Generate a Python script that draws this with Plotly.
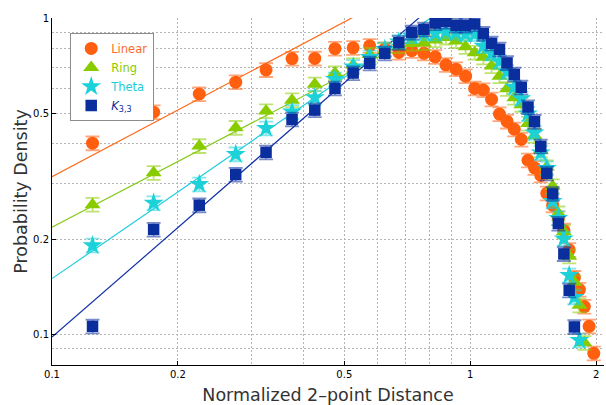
import plotly.graph_objects as go

# Normalized 2-point distance bins and measured probability densities
x_linear = [0.125, 0.175, 0.225, 0.275, 0.325, 0.375, 0.425, 0.475, 0.525, 0.575,
            0.625, 0.675, 0.725, 0.775, 0.825, 0.875, 0.925, 0.975, 1.025, 1.075,
            1.125, 1.175, 1.225, 1.275, 1.325, 1.375, 1.425, 1.475, 1.525, 1.575,
            1.625, 1.675, 1.725, 1.775, 1.825, 1.875, 1.925, 1.975]
y_linear = [0.402, 0.504, 0.575, 0.627, 0.685, 0.744, 0.745, 0.800, 0.805, 0.817,
            0.798, 0.778, 0.788, 0.773, 0.754, 0.711, 0.689, 0.655, 0.599, 0.592,
            0.553, 0.497, 0.471, 0.445, 0.413, 0.355, 0.336, 0.318, 0.279, 0.256,
            0.233, 0.213, 0.185, 0.151, 0.1385, 0.1224, 0.106, 0.0871]

x_ring = [0.125, 0.175, 0.225, 0.275, 0.325, 0.375, 0.425, 0.475, 0.525, 0.575,
          0.625, 0.675, 0.725, 0.775, 0.825, 0.875, 0.925, 0.975, 1.025, 1.075,
          1.125, 1.175, 1.225, 1.275, 1.325, 1.375, 1.425, 1.475, 1.525, 1.575,
          1.625, 1.675, 1.725, 1.775, 1.825, 1.875]
y_ring = [0.257, 0.324, 0.394, 0.450, 0.508, 0.550, 0.617, 0.670, 0.710, 0.766,
          0.792, 0.815, 0.830, 0.834, 0.852, 0.868, 0.846, 0.811, 0.777, 0.751,
          0.705, 0.655, 0.597, 0.560, 0.532, 0.464, 0.425, 0.382, 0.338, 0.294,
          0.2415, 0.211, 0.1765, 0.146, 0.1235, 0.094]

x_theta = [0.125, 0.175, 0.225, 0.275, 0.325, 0.375, 0.425, 0.475, 0.525, 0.575,
           0.625, 0.675, 0.725, 0.775, 0.825, 0.875, 0.925, 0.975, 1.025, 1.075,
           1.125, 1.175, 1.225, 1.275, 1.325, 1.375, 1.425, 1.475, 1.525, 1.575,
           1.625, 1.675, 1.725, 1.775, 1.825]
y_theta = [0.191, 0.260, 0.298, 0.371, 0.448, 0.505, 0.561, 0.640, 0.701, 0.751,
           0.796, 0.841, 0.877, 0.895, 0.895, 0.908, 0.900, 0.889, 0.889, 0.815,
           0.773, 0.729, 0.676, 0.605, 0.557, 0.498, 0.434, 0.375, 0.335, 0.2636,
           0.233, 0.2005, 0.1537, 0.131, 0.0957]

x_k33 = [0.125, 0.175, 0.225, 0.275, 0.325, 0.375, 0.425, 0.475, 0.525, 0.575,
         0.625, 0.675, 0.725, 0.775, 0.825, 0.875, 0.925, 0.975, 1.025, 1.075,
         1.125, 1.175, 1.225, 1.275, 1.325, 1.375, 1.425, 1.475, 1.525, 1.575,
         1.625, 1.675, 1.725, 1.775]
y_k33 = [0.106, 0.2145, 0.256, 0.320, 0.376, 0.478, 0.5115, 0.599, 0.670, 0.719,
         0.773, 0.835, 0.900, 0.921, 0.964, 0.975, 0.947, 0.947, 0.957, 0.892,
         0.832, 0.796, 0.721, 0.663, 0.604, 0.523, 0.470, 0.393, 0.323, 0.278,
         0.224, 0.1795, 0.1378, 0.1055]

# Power-law fits y = A * (x / 0.1) ** b for the short-distance regime
fit_linear = (0.315, 0.70)
fit_ring = (0.218, 0.69)
fit_theta = (0.150, 0.91)
fit_k33 = (0.098, 1.15)
fit_x = [0.1, 1.0]

# Axis ticks and grid positions
x_ticks = [0.1, 0.2, 0.5, 1, 2]
x_ticktext = ["0.1", "0.2", "0.5", "1", "2"]
x_minor = [0.3, 0.4, 0.6, 0.7, 0.8, 0.9]
y_ticks = [0.1, 0.2, 0.5, 1]
y_ticktext = ["0.1", "0.2", "0.5", "1"]
y_minor = [0.09, 0.3, 0.4, 0.6, 0.7, 0.8, 0.9]

series = [
    ("Linear", x_linear, y_linear, fit_linear, "circle", 13, "#ff5f0f", "rgba(255,95,15,0.55)", "#ff6a1a", "#ff6a2a"),
    ("Ring", x_ring, y_ring, fit_ring, "triangle-up", 14, "#88cc00", "rgba(136,204,0,0.55)", "#88cc22", "#88cc00"),
    ("Theta", x_theta, y_theta, fit_theta, "star", 15, "#1cd2d8", "rgba(28,210,216,0.55)", "#22ccdd", "#1cccd6"),
    ("<i>K</i><sub>3,3</sub>", x_k33, y_k33, fit_k33, "square", 11.5, "#0b2e9e", "rgba(11,46,158,0.55)", "#1030a8", "#0b2e9e"),
]

fig = go.Figure()

# Fit lines underneath the markers
for name, xs, ys, (amp, expo), sym, size, col, ecol, lcol, tcol in series:
    fig.add_trace(go.Scatter(
        x=fit_x,
        y=[amp * (v / 0.1) ** expo for v in fit_x],
        mode="lines",
        line=dict(color=lcol, width=1.2),
        showlegend=False,
        hoverinfo="skip",
    ))

for name, xs, ys, fit, sym, size, col, ecol, lcol, tcol in series:
    fig.add_trace(go.Scatter(
        x=xs, y=ys,
        mode="markers",
        name=f'<span style="color:{tcol}">{name}</span>',
        marker=dict(symbol=sym, size=size, color=col, line=dict(width=0)),
        error_y=dict(type="percent", value=5, color=ecol, thickness=1.8, width=7),
    ))

grid_col = "#b4b4b4"
grid_dash = "2px,2px"

fig.update_layout(
    width=606, height=405,
    margin=dict(l=52, r=2, t=18, b=40),
    paper_bgcolor="white", plot_bgcolor="white",
    font=dict(family="DejaVu Sans", color="black"),
    showlegend=True,
    legend=dict(
        x=0.033, y=0.957, xanchor="left", yanchor="top",
        bgcolor="white", bordercolor="#8c8c8c", borderwidth=1,
        font=dict(family="DejaVu Sans", size=11.5),
        itemwidth=30,
    ),
    xaxis=dict(
        type="log", range=[-1, 0.32],
        showline=True, linecolor="black", linewidth=1,
        ticks="inside", ticklen=4, tickcolor="black",
        tickvals=x_ticks, ticktext=x_ticktext,
        tickfont=dict(size=10, color="black"),
        showgrid=True, gridcolor=grid_col, griddash=grid_dash, gridwidth=1,
        minor=dict(tickvals=x_minor, showgrid=True, gridcolor=grid_col,
                   griddash=grid_dash, gridwidth=1, ticks=""),
        zeroline=False,
        title=dict(text="Normalized 2–point Distance",
                   font=dict(size=17.5, color="#333333"), standoff=9),
    ),
    yaxis=dict(
        type="log", range=[-1.097, 0],
        showline=True, linecolor="black", linewidth=1,
        ticks="inside", ticklen=4, tickcolor="black",
        tickvals=y_ticks, ticktext=y_ticktext,
        tickfont=dict(size=10, color="black"),
        showgrid=True, gridcolor=grid_col, griddash=grid_dash, gridwidth=1,
        minor=dict(tickvals=y_minor, showgrid=True, gridcolor=grid_col,
                   griddash=grid_dash, gridwidth=1, ticks=""),
        zeroline=False,
        title=dict(text="Probability Density",
                   font=dict(size=17.5, color="#333333"), standoff=0),
    ),
)

fig.write_html("out.html")
